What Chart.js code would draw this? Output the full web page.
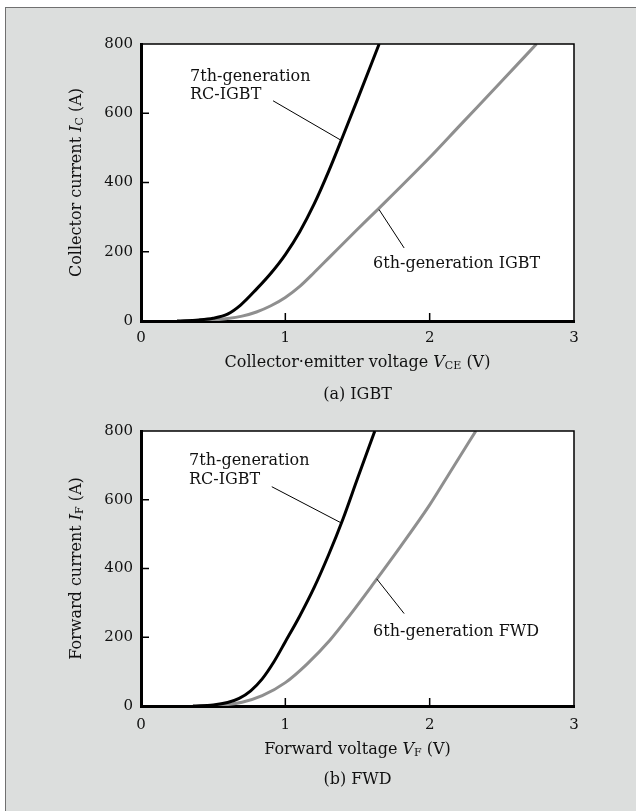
<!DOCTYPE html>
<html>
<head>
<meta charset="utf-8">
<script src="https://cdn.jsdelivr.net/npm/chart.js@4.4.1/dist/chart.umd.min.js"></script>
<style>
  html, body { margin: 0; padding: 0; background: #ffffff; }
  body { width: 636px; height: 811px; position: relative; overflow: hidden; }
  #frame {
    position: absolute; left: 5px; top: 7px; width: 640px; height: 820px;
    background: #dcdedd; border-top: 1px solid #707070; border-left: 1px solid #707070;
  }
  canvas { position: absolute; left: 0; }
</style>
</head>
<body>
<div id="frame"></div>
<canvas id="chartA" width="636" height="410" style="top:0px"></canvas>
<canvas id="chartB" width="636" height="401" style="top:410px"></canvas>
<script>
// ---------------------------------------------------------------------------
// Data (voltage in V, current in A)
// ---------------------------------------------------------------------------
const xTicks = [0, 1, 2, 3];
const yTicks = [0, 200, 400, 600, 800];

// (a) IGBT: collector current vs collector-emitter voltage
const igbt7V = [0.25, 0.40, 0.50, 0.60, 0.69, 0.80, 0.90, 1.00, 1.10, 1.20, 1.30, 1.40, 1.50, 1.65];
const igbt7I = [0, 3, 8, 20, 46, 92, 138, 192, 258, 338, 432, 535, 640, 800];
const igbt6V = [0.35, 0.50, 0.60, 0.70, 0.80, 0.90, 1.00, 1.10, 1.20, 1.31, 1.50, 1.65, 2.00, 2.21, 2.50, 2.74];
const igbt6I = [0, 3, 7, 14, 26, 44, 68, 100, 140, 186, 265, 326, 472, 565, 693, 800];

// (b) FWD: forward current vs forward voltage
const fwd7V = [0.36, 0.50, 0.60, 0.68, 0.76, 0.84, 0.92, 1.00, 1.10, 1.20, 1.30, 1.40, 1.50, 1.62];
const fwd7I = [0, 3, 10, 22, 44, 79, 128, 187, 262, 345, 440, 545, 662, 800];
const fwd6V = [0.45, 0.55, 0.70, 0.84, 1.00, 1.15, 1.31, 1.45, 1.60, 1.80, 2.00, 2.15, 2.32];
const fwd6I = [0, 2, 11, 30, 68, 122, 192, 266, 350, 465, 585, 686, 800];

const SERIF = '"DejaVu Serif", "Liberation Serif", serif';
const BLACK = '#000000';
const GREY = '#8f8f8f';

function toPoints(xs, ys) {
  return xs.map((x, i) => ({ x: x, y: ys[i] }));
}

// ---------------------------------------------------------------------------
// Rich text helper: runs of plain / italic / subscript text
// ---------------------------------------------------------------------------
function runFont(run, size) {
  if (run.sub) return Math.round(size * 0.68) + 'px ' + SERIF;
  if (run.it) return 'italic ' + size + 'px ' + SERIF;
  return size + 'px ' + SERIF;
}

function drawRuns(ctx, runs, x, y, size, align) {
  let total = 0;
  runs.forEach(r => { ctx.font = runFont(r, size); r.w = ctx.measureText(r.t).width; total += r.w; });
  let cx = align === 'center' ? x - total / 2 : x;
  ctx.textAlign = 'left';
  ctx.textBaseline = 'middle';
  runs.forEach(r => {
    ctx.font = runFont(r, size);
    ctx.fillText(r.t, cx, y + (r.sub ? size * 0.2 : 0));
    cx += r.w;
  });
}

// ---------------------------------------------------------------------------
// Plugin: white plot area, thin top/right frame, inward ticks, titles, notes
// ---------------------------------------------------------------------------
const panelDecor = {
  id: 'panelDecor',
  beforeDraw(chart) {
    const a = chart.chartArea, ctx = chart.ctx;
    ctx.save();
    ctx.fillStyle = '#ffffff';
    ctx.fillRect(a.left, a.top, a.right - a.left, a.bottom - a.top);
    ctx.restore();
  },
  afterDatasetsDraw(chart) {
    const a = chart.chartArea, ctx = chart.ctx;
    const xs = chart.scales.x, ys = chart.scales.y;
    const cfg = chart.options.plugins.panelDecor;
    ctx.save();
    ctx.strokeStyle = BLACK;

    // thin top and right frame
    ctx.lineWidth = 1.5;
    ctx.beginPath();
    ctx.moveTo(a.left, a.top);
    ctx.lineTo(a.right, a.top);
    ctx.lineTo(a.right, a.bottom);
    ctx.stroke();

    // inward tick marks
    ctx.lineWidth = 1.5;
    ctx.beginPath();
    yTicks.slice(1, -1).forEach(v => {
      const py = ys.getPixelForValue(v);
      ctx.moveTo(a.left, py);
      ctx.lineTo(a.left + 8, py);
    });
    xTicks.slice(1, -1).forEach(v => {
      const px = xs.getPixelForValue(v);
      ctx.moveTo(px, a.bottom);
      ctx.lineTo(px, a.bottom - 8);
    });
    ctx.stroke();

    // leader lines from labels to curves
    ctx.lineWidth = 1;
    ctx.beginPath();
    cfg.leaders.forEach(l => {
      ctx.moveTo(xs.getPixelForValue(l[0]), ys.getPixelForValue(l[1]));
      ctx.lineTo(xs.getPixelForValue(l[2]), ys.getPixelForValue(l[3]));
    });
    ctx.stroke();

    // curve labels
    ctx.fillStyle = '#111111';
    cfg.notes.forEach(n => {
      drawRuns(ctx, [{ t: n.text }], xs.getPixelForValue(n.x), ys.getPixelForValue(n.y), 16, 'left');
    });

    // axis titles and caption
    const midX = (a.left + a.right) / 2;
    drawRuns(ctx, cfg.xTitle, midX, cfg.xTitleY, 16, 'center');
    drawRuns(ctx, [{ t: cfg.caption }], midX, cfg.captionY, 16, 'center');
    ctx.translate(cfg.yTitleX, (a.top + a.bottom) / 2);
    ctx.rotate(-Math.PI / 2);
    drawRuns(ctx, cfg.yTitle, 0, 0, 16, 'center');
    ctx.restore();
  }
};

// ---------------------------------------------------------------------------
// Panel factory
// ---------------------------------------------------------------------------
function makePanel(id, p) {
  return new Chart(document.getElementById(id), {
    type: 'scatter',
    data: {
      datasets: [
        {
          label: p.names[0],
          data: p.black,
          showLine: true,
          borderColor: BLACK,
          borderWidth: 3,
          pointRadius: 0,
          cubicInterpolationMode: 'monotone',
        },
        {
          label: p.names[1],
          data: p.grey,
          showLine: true,
          borderColor: GREY,
          borderWidth: 3,
          pointRadius: 0,
          cubicInterpolationMode: 'monotone',
        },
      ],
    },
    options: {
      responsive: false,
      animation: false,
      devicePixelRatio: 1,
      layout: { padding: { top: p.padTop, right: 62, left: 0, bottom: 0 } },
      plugins: {
        legend: { display: false },
        tooltip: { enabled: false },
        panelDecor: p.decor,
      },
      scales: {
        x: {
          type: 'linear',
          min: 0,
          max: 3,
          afterBuildTicks: s => { s.ticks = xTicks.map(v => ({ value: v })); },
          afterFit: s => { s.height = p.xAxisH; },
          grid: { display: false, drawTicks: false },
          border: { display: true, color: BLACK, width: 3 },
          ticks: { padding: p.xPad, color: '#111111', maxRotation: 0, font: { family: SERIF, size: 15 } },
        },
        y: {
          type: 'linear',
          min: 0,
          max: 800,
          afterBuildTicks: s => { s.ticks = yTicks.map(v => ({ value: v })); },
          afterFit: s => { s.width = 141; },
          grid: { display: false, drawTicks: false },
          border: { display: true, color: BLACK, width: 3 },
          ticks: { padding: 8, color: '#111111', font: { family: SERIF, size: 15 } },
        },
      },
    },
    plugins: [panelDecor],
  });
}

makePanel('chartA', {
  names: ['7th-generation RC-IGBT', '6th-generation IGBT'],
  black: toPoints(igbt7V, igbt7I),
  grey: toPoints(igbt6V, igbt6I),
  padTop: 44,
  xAxisH: 89,
  xPad: 8,
  decor: {
    notes: [
      { text: '7th-generation', x: 0.34, y: 706 },
      { text: 'RC-IGBT', x: 0.34, y: 652 },
      { text: '6th-generation IGBT', x: 1.608, y: 165 },
    ],
    leaders: [[0.915, 636, 1.386, 522], [1.649, 322, 1.823, 211]],
    xTitle: [{ t: 'Collector\u00b7emitter voltage ' }, { t: 'V', it: true }, { t: 'CE', sub: true }, { t: ' (V)' }],
    yTitle: [{ t: 'Collector current ' }, { t: 'I', it: true }, { t: 'C', sub: true }, { t: ' (A)' }],
    xTitleY: 363,
    caption: '(a) IGBT',
    captionY: 395,
    yTitleX: 77,
  },
});

makePanel('chartB', {
  names: ['7th-generation RC-IGBT', '6th-generation FWD'],
  black: toPoints(fwd7V, fwd7I),
  grey: toPoints(fwd6V, fwd6I),
  padTop: 21,
  xAxisH: 105,
  xPad: 10,
  decor: {
    notes: [
      { text: '7th-generation', x: 0.333, y: 713 },
      { text: 'RC-IGBT', x: 0.333, y: 658 },
      { text: '6th-generation FWD', x: 1.608, y: 216 },
    ],
    leaders: [[0.906, 638, 1.39, 532], [1.633, 370, 1.823, 269]],
    xTitle: [{ t: 'Forward voltage ' }, { t: 'V', it: true }, { t: 'F', sub: true }, { t: ' (V)' }],
    yTitle: [{ t: 'Forward current ' }, { t: 'I', it: true }, { t: 'F', sub: true }, { t: ' (A)' }],
    xTitleY: 340,
    caption: '(b) FWD',
    captionY: 370,
    yTitleX: 77,
  },
});
</script>
</body>
</html>
